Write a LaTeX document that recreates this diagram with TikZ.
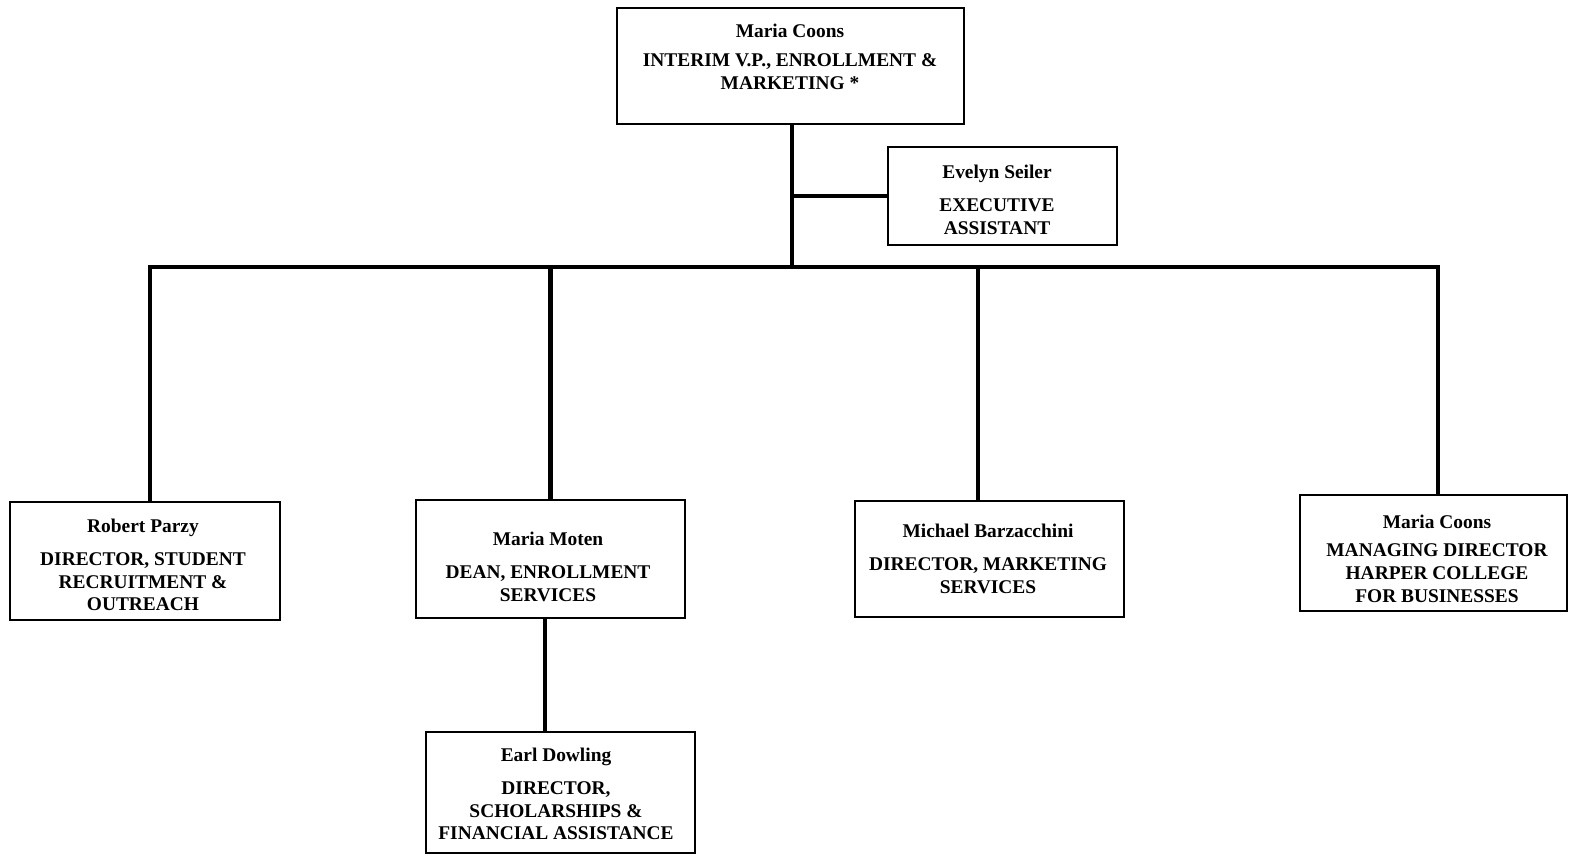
\documentclass[tikz,border=0pt]{standalone}
\usepackage{fontspec}
\setmainfont{Liberation Serif}
\usetikzlibrary{positioning,calc}

\tikzset{
  box/.style={draw, line width=1.6pt, inner sep=0pt},
  txt/.style={align=center, inner sep=0pt, font=\fontsize{13.8}{16.3}\selectfont\bfseries},
  link/.style={line width=3.4pt},
}

\begin{document}
\begin{tikzpicture}[x=0.025cm, y=-0.025cm]
  \useasboundingbox (0,0) rectangle (1569,855);

  % Vice president
  \node[box, minimum width=8.675cm, minimum height=2.9cm] (top) at (790.5, 66) {};
  \node[txt] (topTxt) at (790, 57) {Maria Coons\\[4pt] INTERIM V.P., ENROLLMENT \&\\ MARKETING *};

  % Assistant
  \node[box, minimum width=5.725cm, minimum height=2.45cm] (evelyn) at (1002.5, 196) {};
  \node[txt] (evelynTxt) at (997, 200) {Evelyn Seiler\\[7pt] EXECUTIVE\\ ASSISTANT};

  % Directors
  \node[box, minimum width=6.75cm, minimum height=2.95cm] (robert) at (145, 561) {};
  \node[txt] (robertTxt) at (143, 565) {Robert Parzy\\[7pt] DIRECTOR, STUDENT\\ RECRUITMENT \&\\ OUTREACH};

  \node[box, minimum width=6.725cm, minimum height=2.95cm] (moten) at (550.5, 559) {};
  \node[txt] (motenTxt) at (548, 567) {Maria Moten\\[7pt] DEAN, ENROLLMENT\\ SERVICES};

  \node[box, minimum width=6.725cm, minimum height=2.9cm] (michael) at (989.5, 559) {};
  \node[txt] (michaelTxt) at (988, 559) {Michael Barzacchini\\[7pt] DIRECTOR, MARKETING\\ SERVICES};

  \node[box, minimum width=6.675cm, minimum height=2.9cm] (coons) at (1433.5, 553) {};
  \node[txt] (coonsTxt) at (1437, 559) {Maria Coons\\[4pt] MANAGING DIRECTOR\\ HARPER COLLEGE\\ FOR BUSINESSES};

  % Scholarships
  \node[box, minimum width=6.725cm, minimum height=3.025cm] (earl) at (560.5, 792.5) {};
  \node[txt] (earlTxt) at (556, 794) {Earl Dowling\\[7pt] DIRECTOR,\\ SCHOLARSHIPS \&\\ FINANCIAL ASSISTANCE};

  % Trunk and bus
  \coordinate (bus) at (792, 267);
  \draw[link] (top.south -| bus) -- (bus);
  \draw[link] (evelyn.west) -- (evelyn.west -| bus);
  \draw[link] ([xshift=0.125cm]robert.north) |- (bus);
  \draw[link] (bus) -| ([xshift=0.11cm]coons.north);
  \draw[link] (moten.north) -- (moten.north |- bus);
  \draw[link] ([xshift=-0.29cm]michael.north) -- ([xshift=-0.29cm]michael.north |- bus);

  % Dean to scholarships
  \draw[link] ([xshift=-0.14cm]moten.south) -- ([xshift=-0.14cm]moten.south |- earl.north);
\end{tikzpicture}
\end{document}
